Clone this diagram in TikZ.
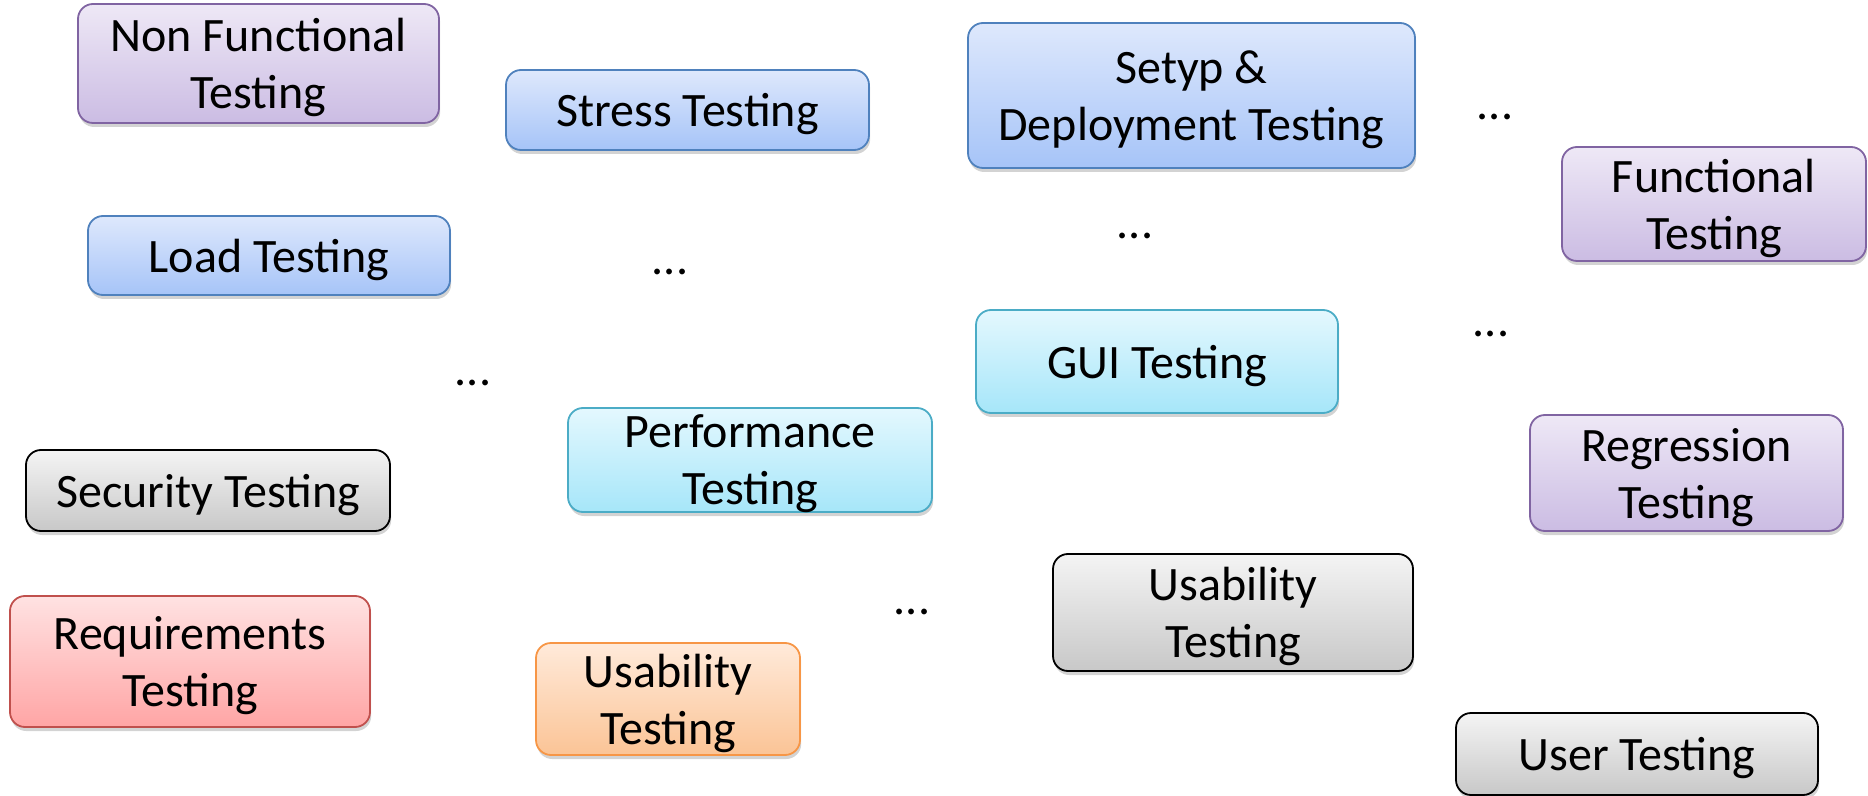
\documentclass[tikz,border=0pt]{standalone}
\usepackage{fontspec}
\setmainfont{Carlito}
\usepackage{tikz}
\usetikzlibrary{shapes,arrows.meta,positioning,shadows,backgrounds}
\definecolor{tpurple}{RGB}{128,100,162}
\definecolor{tpurpleA}{RGB}{238,232,246}
\definecolor{tpurpleB}{RGB}{203,188,227}
\definecolor{tblue}{RGB}{79,129,189}
\definecolor{tblueA}{RGB}{222,232,252}
\definecolor{tblueB}{RGB}{166,196,248}
\definecolor{tcyan}{RGB}{75,172,198}
\definecolor{tcyanA}{RGB}{228,248,254}
\definecolor{tcyanB}{RGB}{166,230,249}
\definecolor{tred}{RGB}{192,80,77}
\definecolor{tredA}{RGB}{255,226,226}
\definecolor{tredB}{RGB}{255,165,165}
\definecolor{torange}{RGB}{247,150,70}
\definecolor{torangeA}{RGB}{255,234,218}
\definecolor{torangeB}{RGB}{251,196,150}
\definecolor{tgreyA}{RGB}{244,244,244}
\definecolor{tgreyB}{RGB}{200,200,200}

\tikzset{
  tbox/.style={rounded corners=7.5pt, line width=0.9pt, align=center,
    inner sep=0pt, text depth=0pt, font=\fontsize{24}{28.5}\selectfont,
    drop shadow={shadow xshift=0.6pt, shadow yshift=-2pt, opacity=0.35}},
  purplebox/.style={tbox, draw=tpurple, top color=tpurpleA, bottom color=tpurpleB},
  bluebox/.style={tbox, draw=tblue, top color=tblueA, bottom color=tblueB},
  cyanbox/.style={tbox, draw=tcyan, top color=tcyanA, bottom color=tcyanB},
  redbox/.style={tbox, draw=tred, top color=tredA, bottom color=tredB},
  orangebox/.style={tbox, draw=torange, top color=torangeA, bottom color=torangeB},
  greybox/.style={tbox, draw=black, top color=tgreyA, bottom color=tgreyB},
  etc/.style={font=\fontsize{24}{28.5}\selectfont}
}

\begin{document}
\begin{tikzpicture}[x=0.5pt, y=-0.5pt]
  \useasboundingbox (0,0) rectangle (1868,796);

  % Left column
  \node[purplebox, minimum width=180.5pt, minimum height=59.5pt] (nonfunc) at (258.5,63.5) {Non Functional\\Testing};
  \node[bluebox, minimum width=181pt, minimum height=39.5pt] (load) at (269,255.5) {Load Testing};
  \node[greybox, minimum width=182pt, minimum height=40.5pt] (security) at (208,490.5) {Security Testing};
  \node[redbox, minimum width=180pt, minimum height=65.5pt] (require) at (190,661.5) {Requirements\\Testing};

  % Middle column
  \node[bluebox, minimum width=181.5pt, minimum height=40pt] (stress) at (687.5,110) {Stress Testing};
  \node[cyanbox, minimum width=182pt, minimum height=52pt] (perform) at (750,460) {Performance\\Testing};
  \node[orangebox, minimum width=132pt, minimum height=56pt] (usabA) at (668,699) {Usability\\Testing};

  % Right-middle column
  \node[bluebox, minimum width=223.5pt, minimum height=72.5pt] (setup) at (1191.5,95.5) {Setyp \&\\Deployment Testing};
  \node[cyanbox, minimum width=181pt, minimum height=51.5pt] (gui) at (1157,361.5) {GUI Testing};
  \node[greybox, minimum width=180pt, minimum height=58.5pt] (usabB) at (1233,612.5) {Usability\\Testing};

  % Right column
  \node[purplebox, minimum width=152pt, minimum height=57pt] (func) at (1714,204) {Functional\\Testing};
  \node[purplebox, minimum width=156.5pt, minimum height=58pt] (regress) at (1686.5,473) {Regression\\Testing};
  \node[greybox, minimum width=181pt, minimum height=41pt] (user) at (1637,754) {User Testing};

  % Dots
  \node[etc] (etcA) at (1495,117) {...};
  \node[etc] (etcB) at (1135,236) {...};
  \node[etc] (etcC) at (670,272) {...};
  \node[etc] (etcD) at (1491,334) {...};
  \node[etc] (etcE) at (473,383) {...};
  \node[etc] (etcF) at (912,612) {...};
\end{tikzpicture}
\end{document}
